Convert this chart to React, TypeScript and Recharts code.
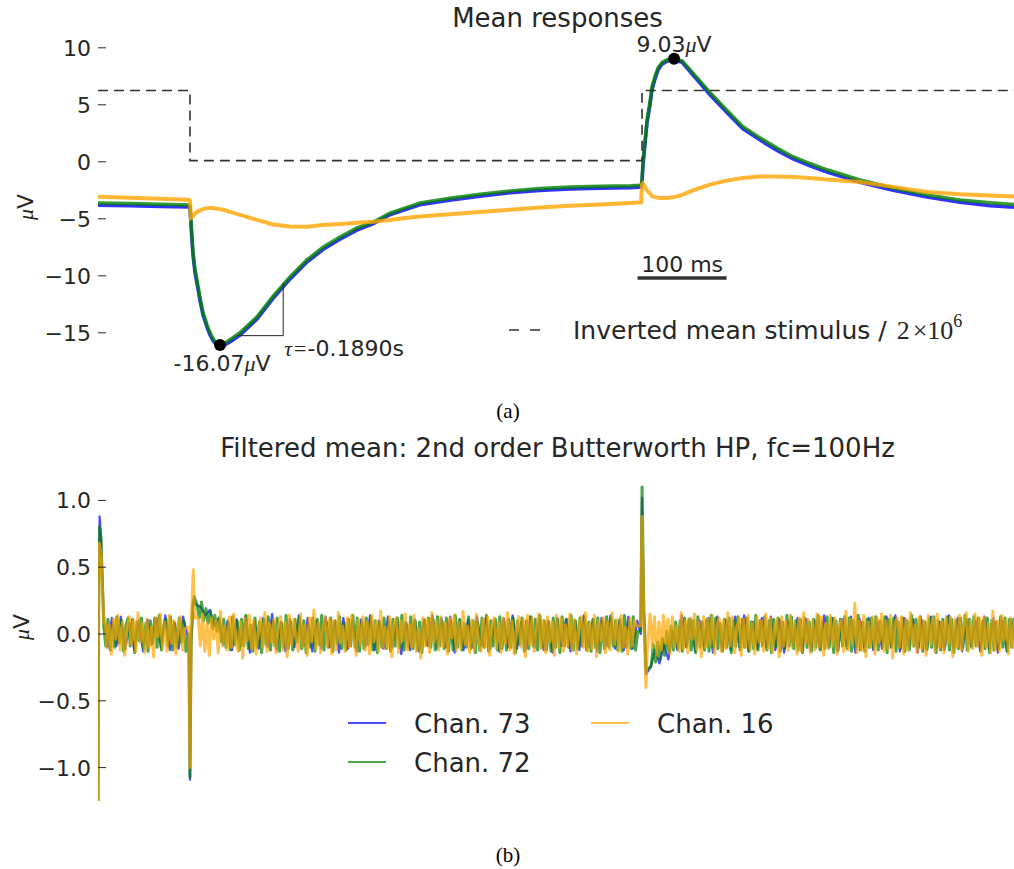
import { LineChart, Line, XAxis, YAxis, ReferenceDot, ReferenceLine } from "recharts";

const SANS = "'DejaVu Sans', 'Bitstream Vera Sans', sans-serif";
const SERIF = "'Liberation Serif', 'DejaVu Serif', serif";
const INK = "#262626";
const STIM_COLOR = "#333333";

// both panels share the same time axis (ms)
const T_MAX = 1031;

const CHANNELS = [
  { key: "c73", name: "Chan. 73", color: "#0000ff" },
  { key: "c72", name: "Chan. 72", color: "#008000" },
  { key: "c16", name: "Chan. 16", color: "#ffa500" },
];

// ---- panel (a): mean responses, µV ----
const meanT = [
  0, 36, 70, 102, 103.3, 104.4, 106.7, 108.9, 111.2, 114.6,
  117.9, 122.4, 125.8, 129.2, 132.5, 137, 142.6, 148.2, 159.5, 178.6,
  196.5, 215.6, 234.7, 252.7, 271.8, 290.9, 308.8, 327.9, 347, 361.6,
  395, 429, 463, 496, 530, 564, 598, 610, 611, 612,
  614.3, 616.6, 620, 622.2, 625.6, 629, 633.4, 639, 647, 656,
  668, 687, 706, 724, 743.5, 762.6, 780.5, 799.6, 818.7, 855.8,
  892.9, 931, 968, 1002, 1031,
];
const meanChan73 = [
  -3.82, -3.86, -3.92, -3.97, -4.02, -5.5, -8.2, -9.7, -10.7, -12.2,
  -13.45, -14.5, -15.2, -15.7, -16.0, -16.15, -16.05, -15.8, -15.2, -13.8,
  -12.0, -10.3, -8.8, -7.7, -6.8, -6.0, -5.45, -4.65, -4.15, -3.78,
  -3.38, -3.02, -2.72, -2.52, -2.38, -2.32, -2.27, -2.22, -1.8, -0.4,
  1.5, 3.4, 5.0, 6.3, 7.25, 8.05, 8.55, 8.82, 8.92, 8.72,
  7.62, 5.9, 4.35, 2.9, 1.9, 1.0, 0.25, -0.35, -0.9, -1.8,
  -2.5, -3.1, -3.55, -3.85, -4.0,
];
const meanChan72 = [
  -3.62, -3.66, -3.72, -3.78, -3.85, -5.2, -7.9, -9.4, -10.4, -11.9,
  -13.2, -14.3, -15.0, -15.5, -15.85, -16.07, -15.9, -15.6, -15.0, -13.6,
  -11.8, -10.1, -8.6, -7.5, -6.6, -5.8, -5.3, -4.5, -4.0, -3.6,
  -3.2, -2.85, -2.55, -2.35, -2.2, -2.15, -2.1, -2.05, -1.6, -0.1,
  1.8, 3.7, 5.3, 6.6, 7.5, 8.25, 8.7, 8.95, 9.03, 8.85,
  7.8, 6.1, 4.55, 3.1, 2.1, 1.2, 0.45, -0.15, -0.7, -1.6,
  -2.3, -2.9, -3.35, -3.6, -3.75,
];
const meanChan16 = [
  -3.07, -3.15, -3.25, -3.33, -3.4, -4.9, -4.75, -4.55, -4.4, -4.25,
  -4.15, -4.08, -4.05, -4.05, -4.1, -4.15, -4.25, -4.4, -4.65, -5.1,
  -5.5, -5.68, -5.7, -5.55, -5.45, -5.35, -5.25, -5.1, -4.9, -4.8,
  -4.6, -4.4, -4.2, -4.0, -3.85, -3.75, -3.62, -3.55, -2.0, -1.9,
  -2.2, -2.5, -2.8, -3.0, -3.1, -3.15, -3.18, -3.17, -3.1, -2.9,
  -2.5, -2.0, -1.65, -1.42, -1.3, -1.28, -1.33, -1.42, -1.55, -1.78,
  -2.2, -2.65, -2.85, -2.95, -3.05,
];

// inverted stimulus, scaled down by 2e6
const stimT = [0, 103.3, 103.3, 611, 611, T_MAX];
const stimScaled = [6.25, 6.25, 0.1, 0.1, 6.25, 6.25];

const MEAN_TICKS = [-15, -10, -5, 0, 5, 10];
const minPeak = { t: 137, v: -16.07 };
const maxPeak = { t: 647, v: 9.03 };
const TAU_S = -0.189;
const tauBox = { t0: 156, t1: 208, vLow: -15.25, vHigh: -10.63 };
const scaleBar = { t0: 606, t1: 706, v: -10.2, label: "100 ms" };

// ---- panel (b): high-passed means, µV ----
// Chan. 16 and Chan. 72 sampled every 2.5 ms, Chan. 73 every 5 ms
const filt16Step = 2.5, filt16Offset = 0;
const filt72Step = 2.5, filt72Offset = 1.25;
const filt73Step = 5, filt73Offset = 0.6;
// stretches where the stimulus transients replace the noise samples
const TRANSIENT_WINDOWS = [[-1, 7], [100, 111], [607, 619]];

const filt16Noise = [
  .02, -.03, .04, .12, -.1, .07, -.15, .11, -.04, .14,
  -.12, .09, -.16, .03, .13, -.08, .1, -.13, .16, -.06,
  .08, -.14, .11, -.1, .05, -.17, .12, -.02, .15, -.11,
  .09, -.13, .14, -.07, .1, -.15, .06, .13, -.12, .04,
  .05, -1, .05, .3, .48, .12, -.09, .15, -.13, .08,
  -.16, .12, -.04, .1, -.14, .17, -.09, .06, -.12, .13,
  -.1, .15, -.07, -.13, .09, -.18, .12, -.05, .14, -.11,
  .1, -.15, .03, .12, -.1, .16, -.13, .08, -.06, .11,
  -.14, .05, .13, -.12, .09, -.17, .14, -.08, .11, -.03,
  -.13, .15, -.1, .07, -.16, .12, -.06, .18, -.11, .09,
  -.14, .02, .13, -.09, .11, -.15, .1, -.12, .16, -.07,
  .06, -.13, .12, -.1, .14, -.04, -.16, .11, -.08, .13,
  -.12, .09, -.15, .14, -.06, .1, -.13, .17, -.1, .05,
  -.11, .13, -.17, .08, .12, -.14, .1, -.05, .15, -.12,
  .07, -.1, .14, -.13, .04, -.18, .12, -.09, .11, -.14,
  .16, -.06, .1, -.12, .13, -.1, .08, -.15, .12, -.03,
  .14, -.13, .09, -.11, .17, -.08, .06, -.14, .1, -.12,
  .15, -.05, -.13, .11, -.1, .13, -.16, .07, .12, -.11,
  .09, -.14, .12, -.07, .16, -.12, .1, -.15, .05, .13,
  -.1, .11, -.17, .14, -.08, .12, -.13, .03, .15, -.11,
  .1, -.14, .13, -.06, .09, -.16, .14, -.1, .12, -.13,
  .07, -.09, .15, -.12, .11, -.15, .06, .13, -.1, .16,
  -.13, .08, -.11, .14, -.17, .1, -.05, .12, -.14, .09,
  -.12, .16, -.08, .11, -.13, .14, -.1, .05, -.15, .12,
  -.09, .1, .06, .88, .1, -.4, -.1, -.14, .15, -.1,
  .13, -.16, .09, -.12, .14, -.07, .11, -.15, .13, -.1,
  .06, -.13, .16, -.11, .1, -.14, .12, -.04, .15, -.12,
  .09, -.17, .13, -.1, .11, -.08, .14, -.15, .07, .12,
  -.13, .1, -.11, .16, -.09, .13, -.14, .05, .12, -.16,
  .11, -.1, .14, -.12, .08, -.15, .13, -.06, .1, -.13,
  .15, -.11, .12, -.14, .04, .11, -.17, .13, -.09, .1,
  -.12, .14, -.1, .09, -.15, .12, -.13, .16, -.07, .11,
  -.14, .1, -.12, .15, -.1, .13, -.16, .08, -.11, .14,
  -.09, .12, -.15, .06, .1, -.13, .17, -.12, .11, -.08,
  .23, -.14, .1, -.12, .14, -.17, .09, -.1, .13, -.15,
  .12, -.06, .15, -.13, .1, -.11, .14, -.18, .08, .12,
  -.1, .13, -.15, .11, -.12, .16, -.09, .07, -.14, .13,
  -.11, .1, -.16, .14, -.08, .12, -.13, .15, -.1, .09,
  -.14, .12, -.07, .13, -.17, .11, -.1, .14, -.12, .06,
  .16, -.13, .1, -.11, .15, -.09, .12, -.16, .13, -.1,
  .08, -.14, .17, -.12, .1, -.13, .14, -.05, .11, -.15,
  .12, -.1, .13,
];
const filt72Noise = [
  .03, -.02, .05, -.09, .11, -.12, .08, -.1, .13, -.07,
  .1, -.13, .06, .12, -.09, .11, -.14, .09, -.05, .12,
  -.11, .08, -.13, .1, -.07, .12, -.1, .14, -.12, .06,
  .11, -.09, .13, -.12, .08, -.1, .12, -.06, .1, -.13,
  .0, -1.07, .2, .28, .22, .12, .24, .1, .19, .08,
  .17, .04, .14, .02, .12, -.06, .11, -.1, .09, -.12,
  .13, -.08, .1, -.12, .11, -.09, .14, -.11, .07, -.13,
  .12, -.1, .09, -.14, .11, -.08, .13, -.12, .1, -.09,
  .12, -.13, .08, -.1, .14, -.11, .09, -.12, .11, -.06,
  .13, -.11, .1, -.14, .07, -.1, .12, -.13, .11, -.08,
  .14, -.12, .09, -.1, .12, -.13, .1, -.07, .13, -.11,
  .08, -.12, .11, -.09, .14, -.1, .12, -.13, .09, -.11,
  .12, -.08, .13, -.12, .1, -.14, .09, -.1, .12, -.11,
  .1, -.13, .11, -.09, .12, -.1, .14, -.12, .08, -.1,
  .13, -.11, .1, -.12, .09, -.14, .11, -.08, .12, -.1,
  .11, -.12, .13, -.09, .1, -.11, .12, -.13, .09, -.12,
  .14, -.1, .11, -.12, .08, -.1, .13, -.11, .1, -.14,
  .09, -.12, .12, -.1, .14, -.13, .1, -.09, .11, -.12,
  .13, -.11, .09, -.12, .11, -.1, .12, -.14, .1, -.08,
  .12, -.13, .1, -.11, .13, -.09, .11, -.12, .14, -.1,
  .1, -.12, .09, -.13, .12, -.1, .11, -.14, .13, -.09,
  .11, -.1, .14, -.12, .1, -.11, .12, -.09, .13, -.12,
  .09, -.13, .11, -.1, .12, -.14, .1, -.11, .13, -.1,
  .12, -.09, .1, -.12, .11, -.13, .14, -.1, .09, -.11,
  .13, -.12, .02, 1.1, .2, -.27, -.2, -.18, -.24, -.08,
  -.21, -.06, -.19, -.03, -.16, .02, -.13, .06, -.12, .09,
  -.11, .1, -.13, .12, -.09, .11, -.12, .1, -.14, .13,
  -.1, .09, -.12, .11, -.13, .14, -.1, .12, -.11, .08,
  -.13, .11, -.1, .12, -.14, .1, -.09, .13, -.12, .11,
  -.1, .12, -.13, .09, -.11, .14, -.12, .1, -.09, .13,
  -.12, .1, -.14, .11, -.1, .12, -.13, .09, -.11, .14,
  -.09, .13, -.11, .1, -.12, .11, -.14, .12, -.1, .09,
  -.13, .11, -.1, .14, -.12, .09, -.11, .13, -.1, .12,
  -.14, .1, -.12, .11, -.09, .13, -.11, .12, -.13, .1,
  -.1, .14, -.12, .09, -.13, .11, -.1, .12, -.11, .13,
  -.12, .1, -.09, .13, -.14, .11, -.1, .12, -.13, .09,
  -.11, .12, -.13, .1, -.12, .14, -.09, .11, -.1, .13,
  -.13, .09, -.11, .12, -.1, .13, -.14, .1, -.12, .11,
  -.09, .13, -.12, .11, -.14, .1, -.11, .12, -.1, .14,
  -.12, .11, -.1, .13, -.09, .12, -.13, .1, -.11, .12,
  -.14, .1, -.12, .09, -.11, .13, -.1, .12, -.13, .11,
  -.1, .12, -.11,
];
const filt73Noise = [
  .04, .03, -.1, .12, -.09, .13, -.11, .08, -.12, .1,
  -.13, .11, -.08, .12, -.1, .14, -.12, .09, -.11, .13,
  -.05, -1.09, .27, .2, .14, .18, .06, .12, -.08, .1,
  -.12, .11, -.09, .13, -.14, .1, -.11, .12, -.1, .15,
  -.12, .09, -.13, .11, -.1, .14, -.09, .12, -.13, .1,
  -.11, .13, -.1, .09, -.14, .12, -.11, .1, -.13, .11,
  -.09, .14, -.12, .1, -.11, .13, -.1, .12, -.15, .09,
  -.12, .11, -.13, .1, -.09, .14, -.11, .12, -.1, .13,
  -.14, .1, -.12, .11, -.1, .13, -.09, .12, -.11, .1,
  -.13, .12, -.1, .14, -.11, .09, -.12, .13, -.1, .11,
  -.12, .1, -.14, .12, -.09, .11, -.13, .1, -.12, .14,
  -.1, .11, -.13, .12, -.09, .14, -.11, .1, -.12, .13,
  -.11, .1, .0, -.3, -.25, -.12, -.22, -.08, -.19, .02,
  -.12, .14, -.1, .11, -.13, .1, -.09, .12, -.14, .13,
  -.11, .1, -.12, .13, -.1, .14, -.13, .09, -.11, .12,
  -.1, .13, -.12, .11, -.14, .1, -.09, .12, -.13, .11,
  -.12, .1, -.11, .14, -.1, .12, -.13, .11, -.09, .13,
  -.14, .11, -.1, .12, -.12, .09, -.11, .13, -.1, .14,
  -.13, .12, -.1, .11, -.14, .1, -.12, .13, -.11, .09,
  -.12, .14, -.1, .12, -.13, .11, -.09, .1, -.12, .13,
  -.11, .12, -.14, .1, -.13, .11, -.1,
];

// onset / offset transients: [t ms, µV]
const filt73Spikes = [
  [0, -1.25], [0.8, 0.3], [1.8, 0.88], [3.2, 0.75], [5, 0.4], [6.5, 0.1],
  [102, -0.05], [103.3, -1.09], [104.6, -0.1], [106.5, 0.2], [108, 0.27], [109.5, 0.22],
  [609.5, 0], [611, 1.02], [613, 0.15], [615.5, -0.3],
];
const filt72Spikes = [
  [0, -1.25], [0.8, 0.25], [1.8, 0.8], [3.3, 0.72], [5, 0.38], [6.5, 0.06],
  [102, 0], [103.3, -1.07], [104.6, -0.05], [106.5, 0.22], [108, 0.28], [109.5, 0.25],
  [609.5, 0.02], [611, 1.1], [613, 0.2], [615.5, -0.27],
];
const filt16Spikes = [
  [0, -1.25], [0.6, 0.2], [1.5, 0.68], [3.5, 0.6], [5, 0.35], [6.5, 0.08],
  [102, 0.05], [103.3, -1.0], [104.6, 0.05], [106, 0.3], [107, 0.48], [108.2, 0.2], [109.5, 0.12],
  [609.5, 0.06], [611, 0.88], [613, 0.1], [615.4, -0.4], [617, -0.1],
];

const FILT_TICKS = [-1, -0.5, 0, 0.5, 1];

type Pt = { t: number; v: number };

const zipSeries = (ts: number[], vs: number[]): Pt[] => ts.map((t, i) => ({ t, v: vs[i] }));

function buildFiltered(noise: number[], step: number, offset: number, spikes: number[][]): Pt[] {
  const pts: Pt[] = noise
    .map((v, i) => ({ t: i * step + offset, v }))
    .filter(p => p.t <= T_MAX && !TRANSIENT_WINDOWS.some(([a, b]) => p.t >= a && p.t < b));
  spikes.forEach(([t, v]) => pts.push({ t, v }));
  return pts.sort((a, b) => a.t - b.t);
}

const meanSeries = [
  { ...CHANNELS[0], data: zipSeries(meanT, meanChan73) },
  { ...CHANNELS[1], data: zipSeries(meanT, meanChan72) },
  { ...CHANNELS[2], data: zipSeries(meanT, meanChan16) },
];
const filtSeries = [
  { ...CHANNELS[0], width: 2.2, data: buildFiltered(filt73Noise, filt73Step, filt73Offset, filt73Spikes) },
  { ...CHANNELS[1], width: 3, data: buildFiltered(filt72Noise, filt72Step, filt72Offset, filt72Spikes) },
  { ...CHANNELS[2], width: 3, data: buildFiltered(filt16Noise, filt16Step, filt16Offset, filt16Spikes) },
];
const stimData = zipSeries(stimT, stimScaled);

const minus = (s: string) => s.replace("-", "\u2212");
const fmtMean = (v: number) => minus(String(v));
const fmtFilt = (v: number) => minus(v.toFixed(1));

// matplotlib-style inward tick: label to the left, short mark pointing into the plot
function YTick(props: any) {
  const { x, y, payload, fmt } = props;
  return (
    <g>
      <line x1={x} x2={x + 8} y1={y} y2={y} stroke={INK} strokeWidth={1} />
      <text x={x - 7} y={y} dy="0.36em" textAnchor="end" fontFamily={SANS} fontSize={22} fill={INK}>
        {fmt(payload.value)}
      </text>
    </g>
  );
}

function PeakDot(props: any) {
  const { cx, cy, labelDy, labelDx, text } = props;
  return (
    <g>
      <circle cx={cx} cy={cy} r={6} fill="#000" />
      <text x={cx + labelDx} y={cy + labelDy} textAnchor="middle" fontFamily={SANS} fontSize={22} fill={INK}>
        {text}
        <tspan fontFamily={SERIF} fontStyle="italic">μ</tspan>
        V
      </text>
    </g>
  );
}

function TauLabel(props: any) {
  const { cx, cy } = props;
  return (
    <text x={cx + 1} y={cy + 20} fontFamily={SANS} fontSize={22} fill={INK}>
      <tspan fontFamily={SERIF} fontStyle="italic">τ</tspan>
      <tspan fontFamily={SERIF} dx={2}>=</tspan>
      <tspan dx={1}>{TAU_S.toFixed(4)}s</tspan>
    </text>
  );
}

function ScaleLabel(props: any) {
  const { cx, cy } = props;
  return (
    <text x={cx} y={cy - 6} textAnchor="middle" fontFamily={SANS} fontSize={22} fill={INK}>
      {scaleBar.label}
    </text>
  );
}

function MeanPanel() {
  return (
    <LineChart width={1020} height={380} margin={{ top: 25, right: 4, bottom: 13, left: 0 }}>
      <XAxis type="number" dataKey="t" domain={[0, T_MAX]} hide allowDataOverflow />
      <YAxis
        type="number"
        domain={[-18, 12]}
        ticks={MEAN_TICKS}
        width={98}
        axisLine={false}
        tickLine={false}
        tickSize={0}
        tickMargin={0}
        allowDataOverflow
        tick={(p: any) => <YTick {...p} fmt={fmtMean} />}
      />
      {meanSeries.map(s => (
        <Line
          key={s.key}
          data={s.data}
          dataKey="v"
          type="linear"
          stroke={s.color}
          strokeOpacity={0.8}
          strokeWidth={s.key === "c16" ? 4 : 3.5}
          dot={false}
          activeDot={false}
          isAnimationActive={false}
        />
      ))}
      <Line
        data={stimData}
        dataKey="v"
        type="linear"
        stroke={STIM_COLOR}
        strokeWidth={1.6}
        strokeDasharray="10 6"
        dot={false}
        activeDot={false}
        isAnimationActive={false}
      />
      <ReferenceLine
        segment={[{ x: tauBox.t0, y: tauBox.vLow }, { x: tauBox.t1, y: tauBox.vLow }]}
        stroke={INK}
        strokeWidth={1}
      />
      <ReferenceLine
        segment={[{ x: tauBox.t1, y: tauBox.vLow }, { x: tauBox.t1, y: tauBox.vHigh }]}
        stroke={INK}
        strokeWidth={1}
      />
      <ReferenceDot x={tauBox.t1} y={tauBox.vLow} r={0} shape={(p: any) => <TauLabel {...p} />} />
      <ReferenceLine
        segment={[{ x: scaleBar.t0, y: scaleBar.v }, { x: scaleBar.t1, y: scaleBar.v }]}
        stroke="#333"
        strokeWidth={3.5}
      />
      <ReferenceDot
        x={(scaleBar.t0 + scaleBar.t1) / 2}
        y={scaleBar.v}
        r={0}
        shape={(p: any) => <ScaleLabel {...p} />}
      />
      <ReferenceDot
        x={minPeak.t}
        y={minPeak.v}
        r={6}
        shape={(p: any) => <PeakDot {...p} text={minPeak.v.toFixed(2)} labelDx={2} labelDy={26} />}
      />
      <ReferenceDot
        x={maxPeak.t}
        y={maxPeak.v}
        r={6}
        shape={(p: any) => <PeakDot {...p} text={maxPeak.v.toFixed(2)} labelDx={0} labelDy={-7} />}
      />
    </LineChart>
  );
}

function FilteredPanel() {
  return (
    <LineChart width={1020} height={375} margin={{ top: 27, right: 4, bottom: 14, left: 0 }}>
      <XAxis type="number" dataKey="t" domain={[0, T_MAX]} hide allowDataOverflow />
      <YAxis
        type="number"
        domain={[-1.25, 1.25]}
        ticks={FILT_TICKS}
        width={98}
        axisLine={false}
        tickLine={false}
        tickSize={0}
        tickMargin={0}
        allowDataOverflow
        tick={(p: any) => <YTick {...p} fmt={fmtFilt} />}
      />
      {filtSeries.map(s => (
        <Line
          key={s.key}
          data={s.data}
          dataKey="v"
          type="linear"
          stroke={s.color}
          strokeOpacity={0.7}
          strokeWidth={s.width}
          strokeLinejoin="round"
          dot={false}
          activeDot={false}
          isAnimationActive={false}
        />
      ))}
    </LineChart>
  );
}

// titles, axis labels, legends and sub-captions
function Decorations() {
  const legendPos = [
    { x: 348, y: 723 },
    { x: 348, y: 762 },
    { x: 591, y: 723 },
  ];
  return (
    <svg width={1014} height={869} style={{ position: "absolute", left: 0, top: 0, pointerEvents: "none" }}>
      <text x={557.5} y={27} textAnchor="middle" fontFamily={SANS} fontSize={26} fill={INK}>Mean responses</text>
      <text x={557.5} y={457} textAnchor="middle" fontFamily={SANS} fontSize={26} fill={INK}>
        Filtered mean: 2nd order Butterworth HP, fc=100Hz
      </text>

      <text transform="translate(33,207) rotate(-90)" textAnchor="middle" fontFamily={SANS} fontSize={22} fill={INK}>
        <tspan fontFamily={SERIF} fontStyle="italic">μ</tspan>V
      </text>
      <text transform="translate(29,627) rotate(-90)" textAnchor="middle" fontFamily={SANS} fontSize={22} fill={INK}>
        <tspan fontFamily={SERIF} fontStyle="italic">μ</tspan>V
      </text>

      <line x1={509} x2={541} y1={330} y2={330} stroke={STIM_COLOR} strokeWidth={1.6} strokeDasharray="10 11" />
      <text x={573} y={339} fontFamily={SANS} fontSize={25} fill={INK}>
        Inverted mean stimulus / <tspan fontFamily={SERIF} fontSize={26} dx={2}>2</tspan>
        <tspan fontFamily={SERIF} fontSize={26} dx={3}>×</tspan>
        <tspan fontFamily={SERIF} fontSize={26}>10</tspan>
        <tspan fontFamily={SERIF} fontSize={18} dy={-12}>6</tspan>
      </text>

      {CHANNELS.map((c, i) => (
        <g key={c.key}>
          <line x1={legendPos[i].x} x2={legendPos[i].x + 38} y1={legendPos[i].y} y2={legendPos[i].y}
            stroke={c.color} strokeOpacity={0.7} strokeWidth={2} />
          <text x={legendPos[i].x + 66} y={legendPos[i].y + 10} fontFamily={SANS} fontSize={26} fill={INK}>
            {c.name}
          </text>
        </g>
      ))}

      <text x={508} y={418} textAnchor="middle" fontFamily={SERIF} fontSize={21} fill="#000">(a)</text>
      <text x={508} y={862} textAnchor="middle" fontFamily={SERIF} fontSize={21} fill="#000">(b)</text>
    </svg>
  );
}

export default function App() {
  return (
    <div style={{ position: "fixed", left: 0, top: 0, width: 1014, height: 869, overflow: "hidden", background: "#fff" }}>
      <div style={{ position: "absolute", left: 0, top: 0 }}>
        <MeanPanel />
      </div>
      <div style={{ position: "absolute", left: 0, top: 440 }}>
        <FilteredPanel />
      </div>
      <Decorations />
    </div>
  );
}
